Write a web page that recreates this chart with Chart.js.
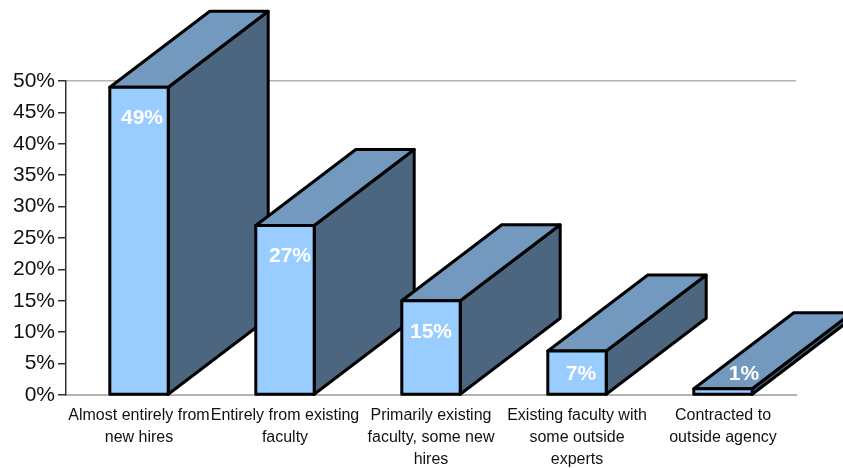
<!DOCTYPE html>
<html>
<head>
<meta charset="utf-8">
<title>Faculty sourcing</title>
<script src="https://cdn.jsdelivr.net/npm/chart.js@4"></script>
<style>
  html, body { margin: 0; padding: 0; background: #fff; overflow: hidden; }
  #wrap { width: 843px; height: 468px; }
</style>
</head>
<body>
<div id="wrap"><canvas id="myChart" width="843" height="468"></canvas></div>
<script>
const categories = [
  ['Almost entirely from', 'new hires'],
  ['Entirely from existing', 'faculty'],
  ['Primarily existing', 'faculty, some new', 'hires'],
  ['Existing faculty with', 'some outside', 'experts'],
  ['Contracted to', 'outside agency']
];
const shares = [49, 27, 15, 7, 1];

const FONT = '"Liberation Sans", Arial, sans-serif';
const DEPTH_X = 100;
const DEPTH_Y = 76;
// the value labels sit a little off centre on some bars
const LABEL_SHIFT = [3, 5, 0, 4, 21];

function face(ctx, points, fill) {
  ctx.beginPath();
  ctx.moveTo(points[0][0], points[0][1]);
  for (let i = 1; i < points.length; i++) {
    ctx.lineTo(points[i][0], points[i][1]);
  }
  ctx.closePath();
  if (fill) {
    ctx.fillStyle = fill;
    ctx.fill();
  }
  ctx.stroke();
}

function outlineStyle(ctx) {
  ctx.strokeStyle = '#000';
  ctx.lineWidth = 3;
  ctx.lineJoin = 'round';
}

// top and side faces go under the bars, left to right
const extrude = {
  id: 'extrude',
  beforeDatasetsDraw(chart) {
    const ctx = chart.ctx;
    ctx.save();
    outlineStyle(ctx);
    chart.getDatasetMeta(0).data.forEach((bar) => {
      const l = bar.x - bar.width / 2;
      const r = bar.x + bar.width / 2;
      const t = bar.y;
      const b = bar.base;
      face(ctx, [[r, t], [r + DEPTH_X, t - DEPTH_Y], [r + DEPTH_X, b - DEPTH_Y], [r, b]], '#4d6680');
      face(ctx, [[l, t], [l + DEPTH_X, t - DEPTH_Y], [r + DEPTH_X, t - DEPTH_Y], [r, t]], '#7399bf');
    });
    ctx.restore();
  },
  afterDatasetsDraw(chart) {
    const ctx = chart.ctx;
    ctx.save();
    outlineStyle(ctx);
    chart.getDatasetMeta(0).data.forEach((bar) => {
      const l = bar.x - bar.width / 2;
      const r = bar.x + bar.width / 2;
      face(ctx, [[l, bar.y], [r, bar.y], [r, bar.base], [l, bar.base]]);
    });
    ctx.fillStyle = '#fff';
    ctx.font = 'bold 21px ' + FONT;
    ctx.textAlign = 'center';
    ctx.textBaseline = 'middle';
    chart.getDatasetMeta(0).data.forEach((bar, i) => {
      ctx.fillText(shares[i] + '%', bar.x + LABEL_SHIFT[i], Math.min(bar.y + 31, 374));
    });
    ctx.restore();
  }
};

Chart.defaults.font.family = FONT;

new Chart(document.getElementById('myChart'), {
  type: 'bar',
  data: {
    labels: categories,
    datasets: [{
      data: shares,
      backgroundColor: '#99ccff',
      borderWidth: 0,
      barPercentage: 0.4,
      categoryPercentage: 1
    }]
  },
  options: {
    responsive: false,
    animation: false,
    layout: {
      autoPadding: false,
      padding: { top: 81, right: 47, bottom: 0, left: 0 }
    },
    plugins: {
      legend: { display: false },
      tooltip: { enabled: false }
    },
    scales: {
      x: {
        afterFit: (scale) => { scale.height = 73; },
        border: { color: '#b3b3b3', width: 2 },
        grid: {
          drawTicks: false,
          lineWidth: 1,
          color: (c) => (c.index === categories.length ? '#e3e3e3' : 'transparent')
        },
        ticks: {
          autoSkip: false,
          maxRotation: 0,
          minRotation: 0,
          padding: 10,
          color: '#111',
          font: { size: 16, lineHeight: 1.375 }
        }
      },
      y: {
        min: 0,
        max: 50,
        afterFit: (scale) => { scale.width = 66; },
        border: { color: '#333', width: 1.5 },
        grid: {
          tickLength: 8,
          tickColor: '#333',
          lineWidth: 1.5,
          color: (c) => (c.tick.value === 50 ? '#b3b3b3' : 'transparent')
        },
        ticks: {
          stepSize: 5,
          padding: 3,
          color: '#111',
          font: { size: 21 },
          callback: (v) => v + '%'
        }
      }
    }
  },
  plugins: [extrude]
});
</script>
</body>
</html>
